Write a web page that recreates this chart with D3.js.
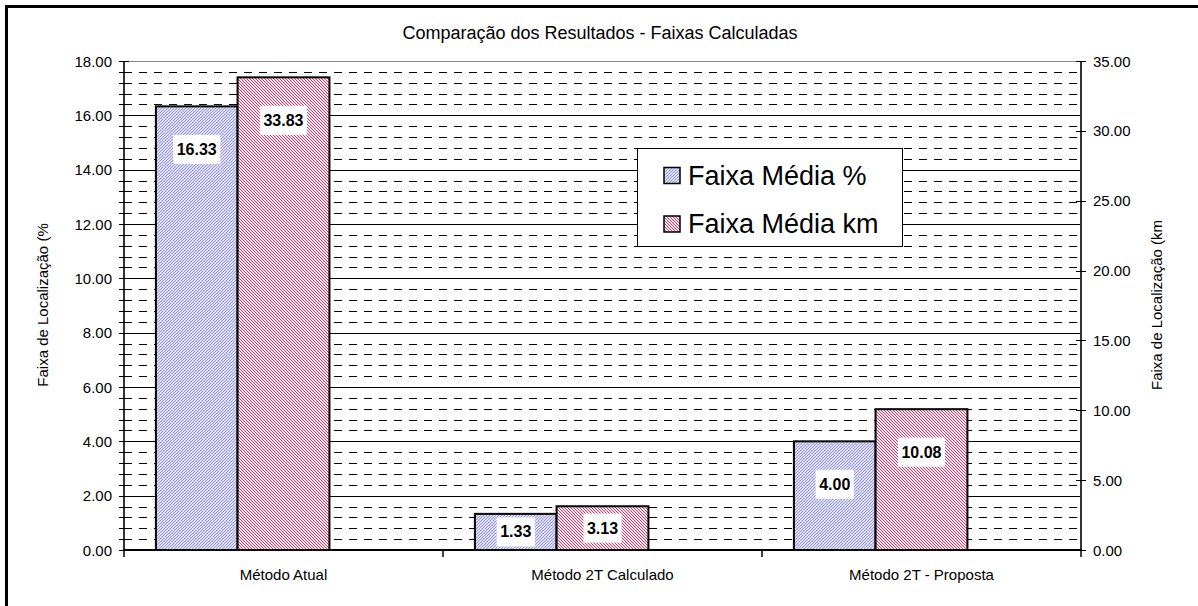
<!DOCTYPE html>
<html>
<head>
<meta charset="utf-8">
<script src="https://cdn.jsdelivr.net/npm/d3@7"></script>
<style>
  body { margin: 0; background: #fff; }
  svg { font-family: "Liberation Sans", Arial, sans-serif; }
</style>
</head>
<body>
<svg id="chart" width="1198" height="606"></svg>
<script>
// data
const categories = ['Método Atual', 'Método 2T Calculado', 'Método 2T - Proposta'];
const faixaPct = [16.33, 1.33, 4.00];
const faixaKm = [33.83, 3.13, 10.08];
const leftTicks = [0, 2, 4, 6, 8, 10, 12, 14, 16, 18];
const rightTicks = [0, 5, 10, 15, 20, 25, 30, 35];
const seriesNames = ['Faixa Média %', 'Faixa Média km'];

const svg = d3.select('#chart');
const plot = { left: 124, right: 1081, top: 61, bottom: 550 };

// patterns for the hatched bars
const defs = svg.append('defs');
const pBlue = defs.append('pattern').attr('id', 'hatchBlue')
	.attr('patternUnits', 'userSpaceOnUse').attr('width', 3).attr('height', 3);
pBlue.append('rect').attr('width', 3).attr('height', 3).attr('fill', '#d8d8f0');
pBlue.append('path').attr('d', 'M0,3 L3,0 M-1,1 L1,-1 M2,4 L4,2')
	.attr('stroke', '#a0a0d2').attr('stroke-width', 1);

const pRed = defs.append('pattern').attr('id', 'hatchRed')
	.attr('patternUnits', 'userSpaceOnUse').attr('width', 3).attr('height', 3);
pRed.append('rect').attr('width', 3).attr('height', 3).attr('fill', '#f6e2ea');
pRed.append('path').attr('d', 'M0,0 L3,3 M-1,2 L1,4 M2,-1 L4,1')
	.attr('stroke', '#bc4a76').attr('stroke-width', 1);

// outer border
svg.append('rect').attr('x', 6.5).attr('y', 6.5).attr('width', 1200).attr('height', 610)
	.attr('fill', 'none').attr('stroke', '#000').attr('stroke-width', 3);

const x = d3.scaleBand().domain(categories).range([plot.left, plot.right]).padding(0);
const yL = d3.scaleLinear().domain([0, 18]).range([plot.bottom, plot.top]);
const yR = d3.scaleLinear().domain([0, 35]).range([plot.bottom, plot.top]);

// minor gridlines (dashed) every 0.4
const minor = d3.range(0, 18.0001, 0.4).filter(v => Math.abs(v / 2 - Math.round(v / 2)) > 1e-6);
svg.append('g').selectAll('line').data(minor).join('line')
	.attr('x1', plot.left).attr('x2', plot.right)
	.attr('y1', d => Math.round(yL(d)) + 0.5).attr('y2', d => Math.round(yL(d)) + 0.5)
	.attr('stroke', '#000').attr('stroke-width', 1).attr('stroke-dasharray', '8 7');

// major gridlines
svg.append('g').selectAll('line').data(leftTicks.filter(d => d > 0)).join('line')
	.attr('x1', plot.left).attr('x2', plot.right)
	.attr('y1', d => Math.round(yL(d)) + 0.5).attr('y2', d => Math.round(yL(d)) + 0.5)
	.attr('stroke', d => d === 18 ? '#888' : '#000').attr('stroke-width', 1);

// bars
const bandW = x.bandwidth();
const g = svg.append('g');
categories.forEach((c, i) => {
	const x0 = x(c);
	const bx = x0 + bandW * 0.1, jx = x0 + bandW * 0.356, ex = x0 + bandW * 0.644;
	g.append('rect').attr('x', bx).attr('y', yL(faixaPct[i]))
		.attr('width', jx - bx).attr('height', plot.bottom - yL(faixaPct[i]))
		.attr('fill', 'url(#hatchBlue)').attr('stroke', '#000').attr('stroke-width', 2);
	g.append('rect').attr('x', jx).attr('y', yR(faixaKm[i]))
		.attr('width', ex - jx).attr('height', plot.bottom - yR(faixaKm[i]))
		.attr('fill', 'url(#hatchRed)').attr('stroke', '#000').attr('stroke-width', 2);

	[[faixaPct[i], yL(faixaPct[i]), (bx + jx) / 2], [faixaKm[i], yR(faixaKm[i]), (jx + ex) / 2]]
		.forEach(([v, top, cx]) => {
			const cy = Math.min(top + 43, (top + plot.bottom) / 2);
			const lg = g.append('g');
			const t = lg.append('text').attr('x', cx).attr('y', cy)
				.attr('text-anchor', 'middle').attr('dominant-baseline', 'central')
				.attr('font-size', 16).attr('font-weight', 'bold').text(v.toFixed(2));
			const w = t.node().getComputedTextLength() + 7;
			lg.insert('rect', 'text').attr('x', cx - w / 2).attr('y', cy - 14.5)
				.attr('width', w).attr('height', 29).attr('fill', '#fff');
		});
});

// left axis
const axL = svg.append('g');
axL.append('line').attr('x1', plot.left).attr('x2', plot.left)
	.attr('y1', plot.top).attr('y2', plot.bottom).attr('stroke', '#333').attr('stroke-width', 2);
axL.selectAll('line.tk').data(d3.range(0, 18.0001, 0.4)).join('line').attr('class', 'tk')
	.attr('x1', plot.left - 5).attr('x2', plot.left + 5)
	.attr('y1', d => Math.round(yL(d)) + 0.5).attr('y2', d => Math.round(yL(d)) + 0.5)
	.attr('stroke', '#000').attr('stroke-width', 1);
axL.selectAll('text').data(leftTicks).join('text')
	.attr('x', 112).attr('y', d => yL(d)).attr('text-anchor', 'end')
	.attr('dominant-baseline', 'central').attr('font-size', 15).text(d => d.toFixed(2));

// right axis
const axR = svg.append('g');
axR.append('line').attr('x1', plot.right).attr('x2', plot.right)
	.attr('y1', plot.top).attr('y2', plot.bottom).attr('stroke', '#333').attr('stroke-width', 2);
axR.selectAll('line.tk').data(rightTicks).join('line').attr('class', 'tk')
	.attr('x1', plot.right - 5).attr('x2', plot.right + 5)
	.attr('y1', d => Math.round(yR(d)) + 0.5).attr('y2', d => Math.round(yR(d)) + 0.5)
	.attr('stroke', '#000').attr('stroke-width', 1);
axR.selectAll('text').data(rightTicks).join('text')
	.attr('x', 1093).attr('y', d => yR(d))
	.attr('dominant-baseline', 'central').attr('font-size', 15).text(d => d.toFixed(2));

// bottom axis
const axB = svg.append('g');
axB.append('line').attr('x1', plot.left - 1).attr('x2', plot.right + 1)
	.attr('y1', plot.bottom).attr('y2', plot.bottom).attr('stroke', '#000').attr('stroke-width', 2);
axB.selectAll('line.tk').data(categories.concat(['end'])).join('line').attr('class', 'tk')
	.attr('x1', d => d === 'end' ? plot.right : x(d)).attr('x2', d => d === 'end' ? plot.right : x(d))
	.attr('y1', plot.bottom).attr('y2', plot.bottom + 7).attr('stroke', '#000').attr('stroke-width', 1.5);
axB.selectAll('text').data(categories).join('text')
	.attr('x', d => x(d) + bandW / 2).attr('y', 574).attr('text-anchor', 'middle')
	.attr('dominant-baseline', 'central').attr('font-size', 15).text(d => d);

// axis titles
svg.append('text').attr('transform', 'translate(42,305) rotate(-90)')
	.attr('text-anchor', 'middle').attr('dominant-baseline', 'central')
	.attr('font-size', 15).text('Faixa de Localização (%');
svg.append('text').attr('transform', 'translate(1156,305) rotate(-90)')
	.attr('text-anchor', 'middle').attr('dominant-baseline', 'central')
	.attr('font-size', 15).text('Faixa de Localização (km');

// title
svg.append('text').attr('x', 600).attr('y', 33).attr('text-anchor', 'middle')
	.attr('dominant-baseline', 'central').attr('font-size', 18)
	.text('Comparação dos Resultados - Faixas Calculadas');

// legend
const leg = svg.append('g');
leg.append('rect').attr('x', 637.5).attr('y', 148.5).attr('width', 265).attr('height', 98)
	.attr('fill', '#fff').attr('stroke', '#000').attr('stroke-width', 1);
const legY = [175.5, 224];
const legFill = ['url(#hatchBlue)', 'url(#hatchRed)'];
seriesNames.forEach((n, i) => {
	leg.append('rect').attr('x', 664).attr('y', legY[i] - 8).attr('width', 16).attr('height', 16)
		.attr('fill', legFill[i]).attr('stroke', '#000').attr('stroke-width', 1.5);
	leg.append('text').attr('x', 688).attr('y', legY[i]).attr('dominant-baseline', 'central')
		.attr('font-size', 27).text(n);
});
</script>
</body>
</html>
